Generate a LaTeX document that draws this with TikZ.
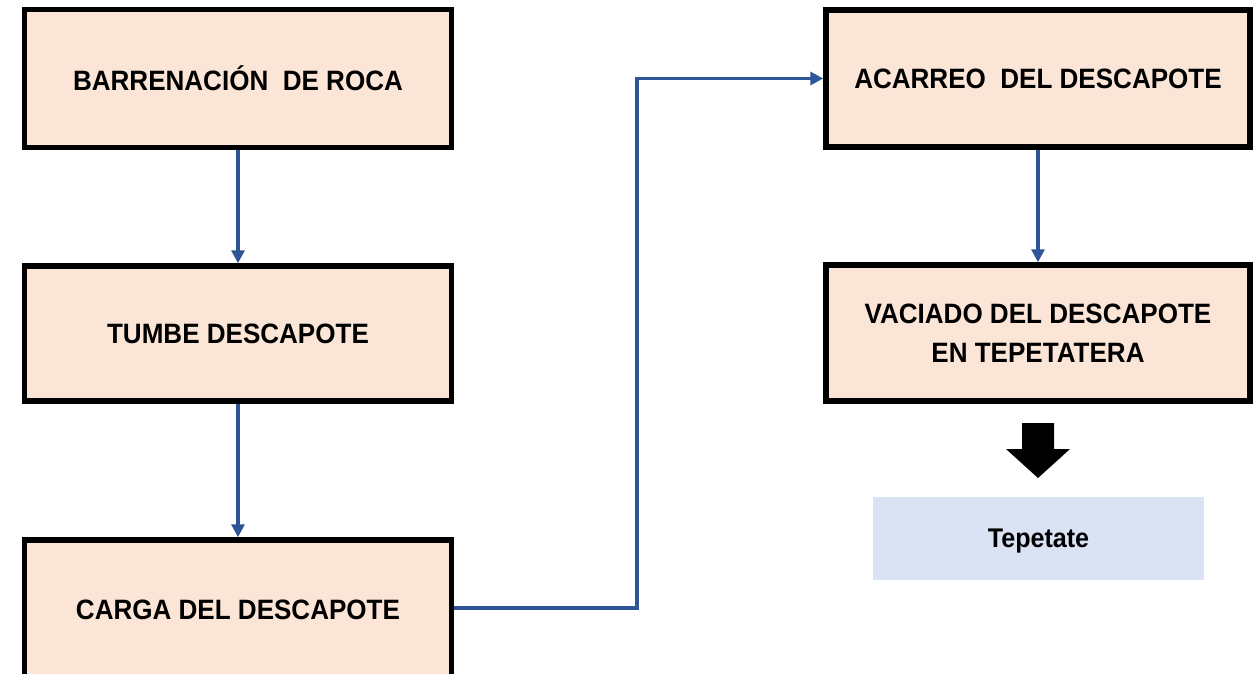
\documentclass[tikz,border=0pt]{standalone}
\usepackage{fontspec}
\setmainfont{Liberation Sans}[FakeStretch=0.93]
\usetikzlibrary{arrows.meta}
\definecolor{peach}{HTML}{FBE5D6}
\definecolor{paleblue}{HTML}{DAE3F3}
\definecolor{linkblue}{RGB}{47,85,151}
\tikzset{
  stepbox/.style={draw=black, line width=5.5pt, fill=peach, inner sep=0pt,
    align=center, font=\fontsize{28}{39}\selectfont\bfseries},
  resultbox/.style={fill=paleblue, inner sep=0pt, align=center, text depth=0pt,
    font=\fontsize{27}{30}\selectfont\bfseries},
  link/.style={draw=linkblue, line width=3.2pt,
    -{Triangle[length=13pt,width=13pt]}}
}
\begin{document}
\begin{tikzpicture}[x=1pt,y=-1pt]
\useasboundingbox (0,0) rectangle (1253,674);
\clip (0,0) rectangle (1253,674);
\fill[white] (0,0) rectangle (1253,674);
\node[stepbox, minimum width=427pt, minimum height=138pt] (b1) at (238,78.5) {BARRENACIÓN~ DE ROCA};
\node[stepbox, minimum width=427pt, minimum height=135pt] (b2) at (238,333.5) {TUMBE DESCAPOTE};
\node[stepbox, minimum width=427pt, minimum height=140pt] (b3) at (238,610) {CARGA DEL DESCAPOTE};
\node[stepbox, minimum width=424pt, minimum height=137pt] (b4) at (1038,78.5) {ACARREO~ DEL DESCAPOTE};
\node[stepbox, minimum width=424pt, minimum height=136pt] (b5) at (1038,333) {VACIADO DEL DESCAPOTE\\EN TEPETATERA};
\node[resultbox, minimum width=331pt, minimum height=83pt] (t) at (1038.5,538.5) {Tepetate};
\coordinate (bend) at (637,608);
\draw[link] (b1.south) -- (b2.north);
\draw[link] (b2.south) -- (b3.north);
\draw[link] (b3.east |- bend) -- (bend) |- (b4.west);
\draw[link] (b4.south) -- (b5.north);
\fill[black] (1022,423) -- (1054,423) -- (1054,449) -- (1070,449) -- (1038,478)
  -- (1006,449) -- (1022,449) -- cycle;
\end{tikzpicture}
\end{document}
